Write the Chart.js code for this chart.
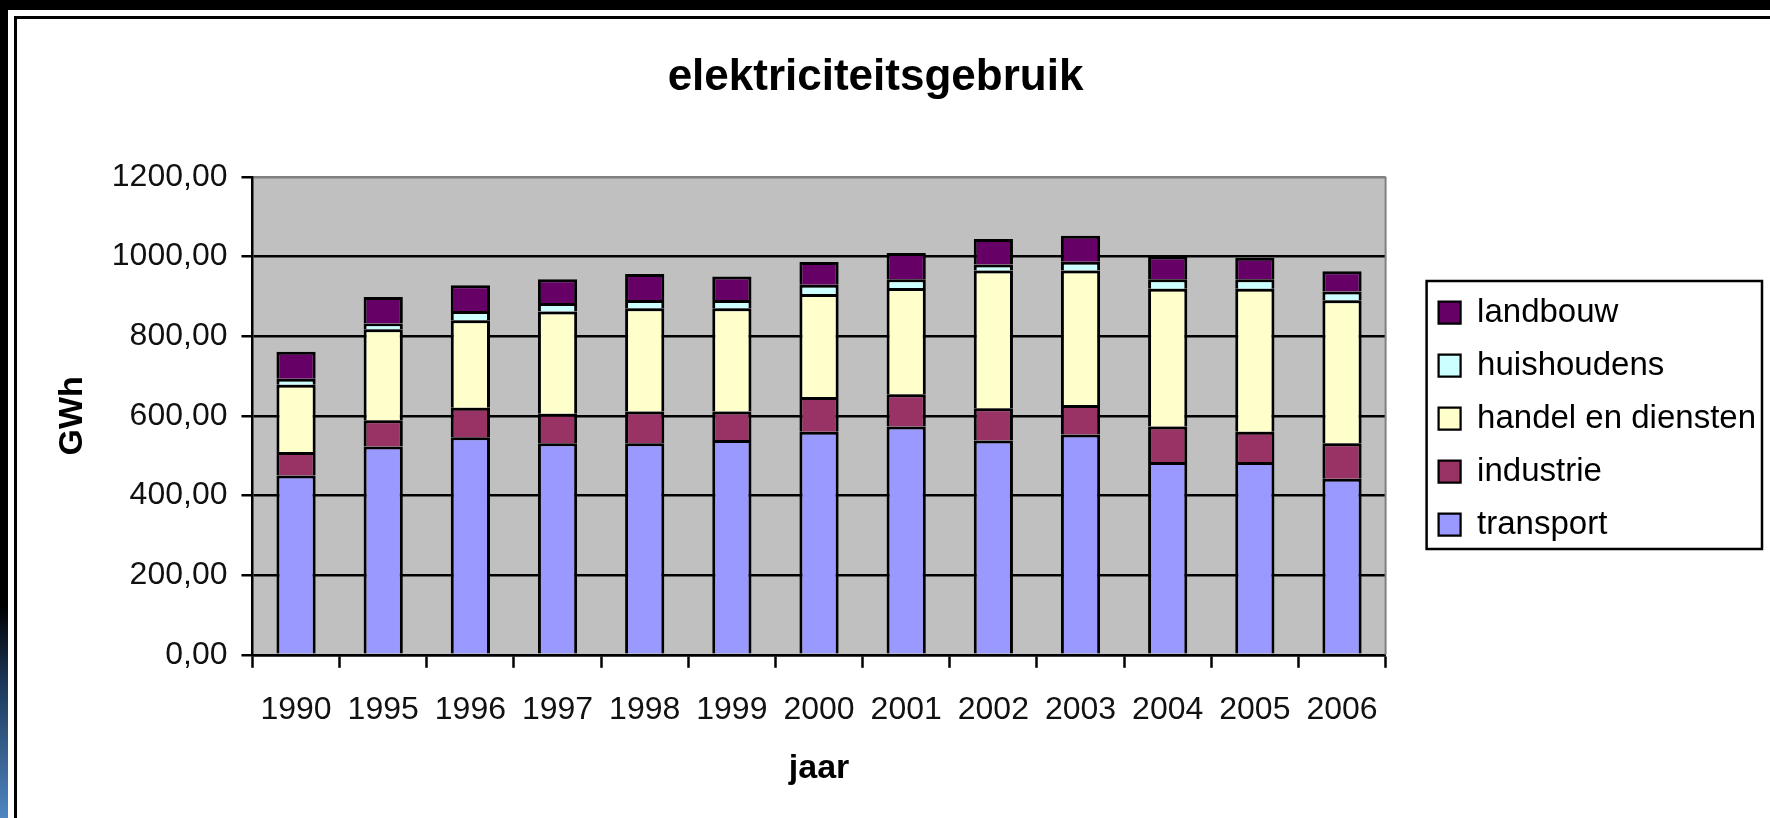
<!DOCTYPE html>
<html>
<head>
<meta charset="utf-8">
<script src="https://cdn.jsdelivr.net/npm/chart.js@4"></script>
<style>
    html, body { margin: 0; padding: 0; }
    body { width: 1770px; height: 818px; background: #000; overflow: hidden; position: relative; }
    #strip { position: absolute; left: 0; top: 0; width: 8px; height: 818px;
             background: linear-gradient(to bottom, #000 0%, #000 74%, #1d3a5e 84%, #4f86c0 100%); }
    #sheet { position: absolute; left: 8px; top: 10px; width: 1800px; height: 900px; background: #fff; }
    #frame { position: absolute; left: 14px; top: 16px; width: 1800px; height: 900px;
             border-left: 3px solid #000; border-top: 3px solid #000; background: #fff; }
    #chart { position: absolute; left: 17px; top: 19px; }
</style>
</head>
<body>
<div id="strip"></div>
<div id="sheet"></div>
<div id="frame"></div>
<canvas id="chart" width="1790" height="799"></canvas>
<script>
// elektriciteitsgebruik per sector (GWh)
const years = ["1990", "1995", "1996", "1997", "1998", "1999", "2000", "2001", "2002", "2003", "2004", "2005", "2006"];
const transport = [450, 523, 546, 531, 531, 539, 560, 573, 538, 553, 484, 484, 442];
const industrie = [59, 66, 74, 74, 80, 72, 87, 81, 81, 74, 89, 76, 89];
const handel = [169, 228, 220, 257, 259, 259, 259, 267, 346, 338, 346, 359, 359];
const huishoudens = [15, 15, 23, 21, 21, 21, 23, 22, 15, 22, 24, 24, 22];
const landbouw = [68, 66, 65, 60, 65, 59, 57, 66, 64, 65, 57, 54, 51];
const yTicks = [0, 200, 400, 600, 800, 1000, 1200];

const FONT = "'Liberation Sans', Arial, sans-serif";

function series(label, data, color) {
    return {
        label: label,
        data: data,
        backgroundColor: color,
        borderColor: "#000",
        borderWidth: { top: 3, left: 3, right: 3, bottom: 0 },
        borderSkipped: false,
        barPercentage: 0.45,
        categoryPercentage: 1.0,
    };
}

// grey plot background + grey right edge
const plotArea = {
    id: "plotArea",
    beforeDraw(chart) {
        const { ctx, chartArea: a } = chart;
        ctx.save();
        ctx.fillStyle = "#c0c0c0";
        ctx.fillRect(a.left, a.top, a.right - a.left, a.bottom - a.top);
        ctx.restore();
    },
    afterDraw(chart) {
        const { ctx, chartArea: a } = chart;
        ctx.save();
        ctx.strokeStyle = "#808080";
        ctx.lineWidth = 2;
        ctx.beginPath();
        ctx.moveTo(a.right, a.top);
        ctx.lineTo(a.right, a.bottom);
        ctx.stroke();
        ctx.restore();
    }
};

// title sits a bit left of the full-width centre in the original
const titleShift = {
    id: "titleShift",
    afterLayout(chart) {
        if (chart.titleBlock) {
            chart.titleBlock.left -= 21;
            chart.titleBlock.right -= 21;
        }
    }
};

// box around the legend items
const legendBox = {
    id: "legendBox",
    afterDraw(chart) {
        const boxes = chart.legend.legendHitBoxes;
        if (!boxes || !boxes.length) return;
        const left = Math.min(...boxes.map(b => b.left)) - 12;
        const right = Math.max(...boxes.map(b => b.left + b.width)) + 6;
        const top = Math.min(...boxes.map(b => b.top)) - 15;
        const bottom = Math.max(...boxes.map(b => b.top + b.height)) + 8;
        const ctx = chart.ctx;
        ctx.save();
        ctx.strokeStyle = "#000";
        ctx.lineWidth = 2.5;
        ctx.strokeRect(left, top, right - left, bottom - top);
        ctx.restore();
    }
};

new Chart(document.getElementById("chart").getContext("2d"), {
    type: "bar",
    data: {
        labels: years,
        datasets: [
            series("transport", transport, "#9999ff"),
            series("industrie", industrie, "#993366"),
            series("handel en diensten", handel, "#ffffcc"),
            series("huishoudens", huishoudens, "#ccffff"),
            series("landbouw", landbouw, "#660066"),
        ]
    },
    options: {
        responsive: false,
        animation: false,
        layout: { padding: { left: 10, right: 41, top: 0, bottom: 0 } },
        plugins: {
            title: {
                display: true,
                text: "elektriciteitsgebruik",
                color: "#000",
                font: { family: FONT, size: 44, weight: "bold" },
                padding: { top: 32, bottom: 73 }
            },
            legend: {
                position: "right",
                reverse: true,
                maxWidth: 420,
                labels: {
                    color: "#000",
                    font: { family: FONT, size: 33 },
                    boxWidth: 22,
                    boxHeight: 22,
                    padding: 20
                }
            },
            tooltip: { enabled: false }
        },
        scales: {
            x: {
                stacked: true,
                grid: {
                    display: true,
                    drawOnChartArea: false,
                    offset: true,
                    tickLength: 13,
                    tickColor: "#000",
                    tickWidth: 2.5
                },
                border: { display: true, color: "#000", width: 2.5 },
                ticks: {
                    color: "#111",
                    font: { family: FONT, size: 32 },
                    padding: 23,
                    maxRotation: 0,
                    autoSkip: false
                },
                title: {
                    display: true,
                    text: "jaar",
                    color: "#000",
                    font: { family: FONT, size: 34, weight: "bold" },
                    padding: { top: -4, bottom: 29 }
                }
            },
            y: {
                stacked: true,
                min: yTicks[0],
                max: yTicks[yTicks.length - 1],
                afterBuildTicks(scale) {
                    scale.ticks = yTicks.map(v => ({ value: v }));
                },
                grid: {
                    color: ctx => (ctx.tick && ctx.tick.value === 1200 ? "#808080" : "#000"),
                    lineWidth: 2.5,
                    tickLength: 11,
                    tickColor: "#000",
                    tickWidth: 2.5
                },
                border: { display: true, color: "#000", width: 2.5 },
                ticks: {
                    color: "#111",
                    font: { family: FONT, size: 32 },
                    padding: 14,
                    callback: v => v.toFixed(2).replace(".", ",")
                },
                title: {
                    display: true,
                    text: "GWh",
                    color: "#000",
                    font: { family: FONT, size: 34, weight: "bold" },
                    padding: { top: 25, bottom: 5 }
                }
            },
            gap: {
                type: "linear",
                position: "right",
                display: true,
                grid: { display: false, drawTicks: false },
                border: { display: false },
                ticks: { display: false },
                afterFit(scale) { scale.width = 33; }
            }
        }
    },
    plugins: [plotArea, titleShift, legendBox]
});
</script>
</body>
</html>
